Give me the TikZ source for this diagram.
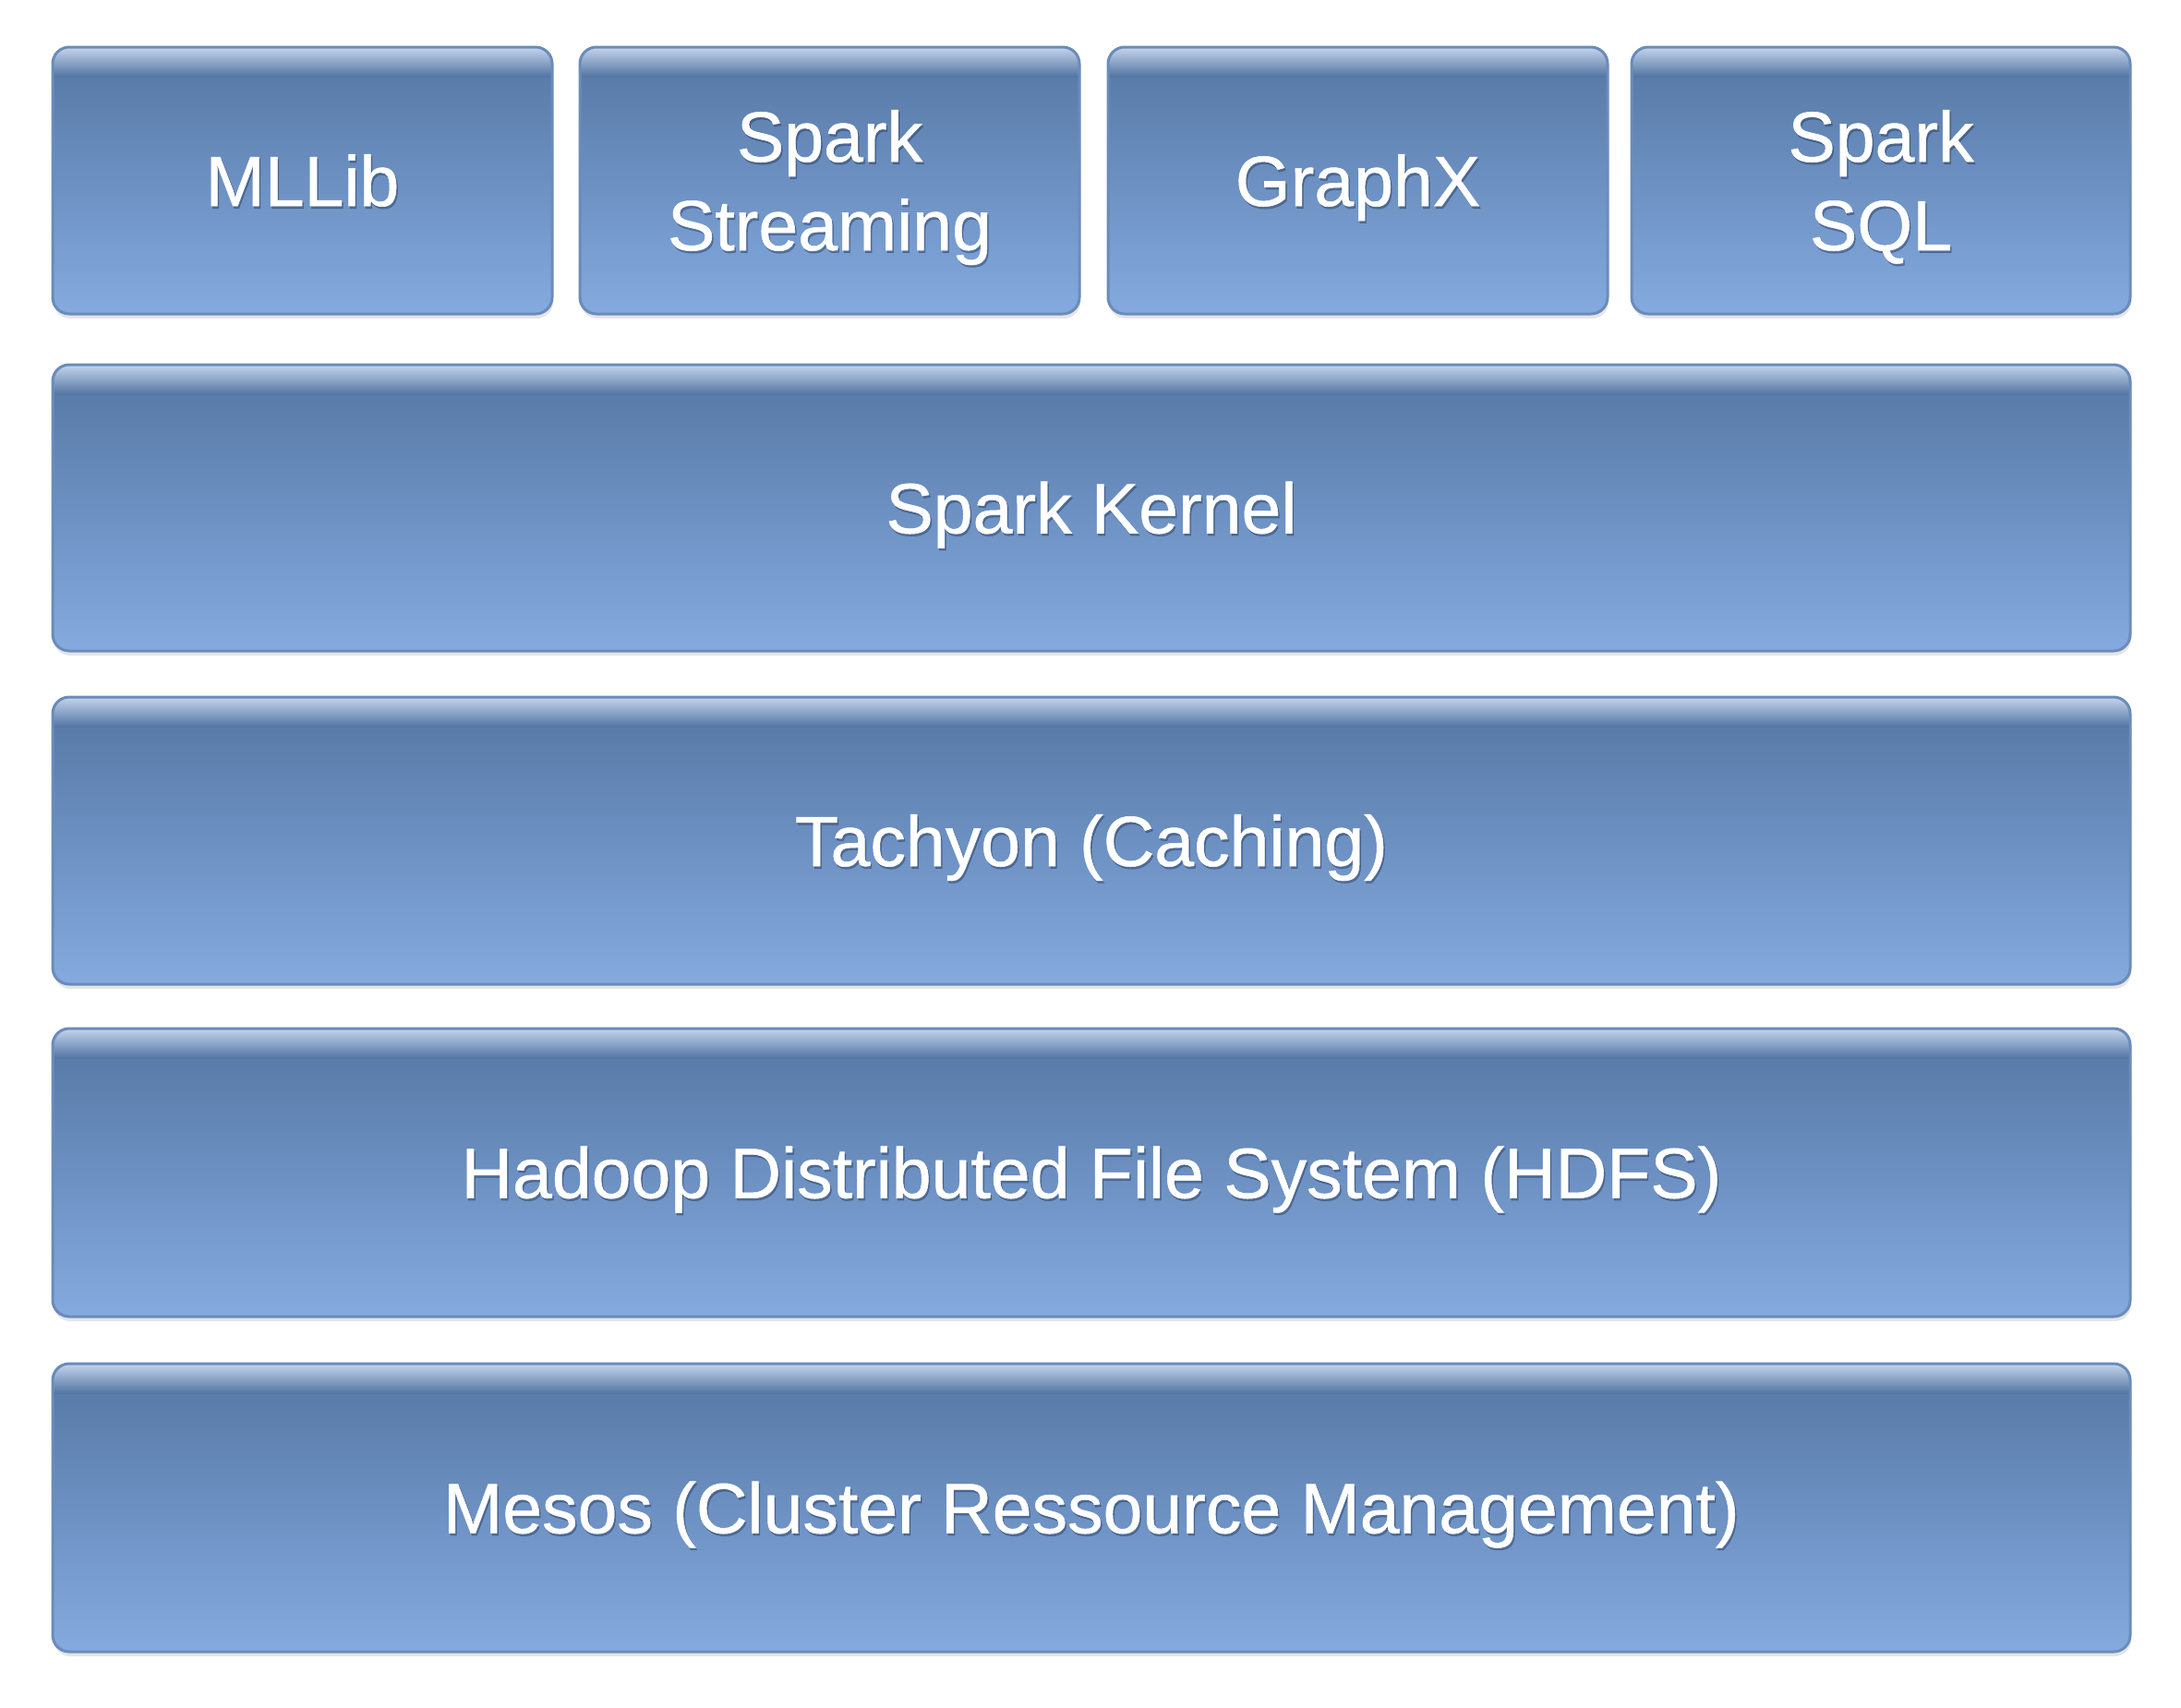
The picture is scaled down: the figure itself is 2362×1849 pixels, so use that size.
\documentclass[tikz,border=0pt]{standalone}
\usepackage{fontspec}
\setmainfont{Liberation Sans}
\newfontfamily\lblfont{Liberation Sans}[FakeBold=0.7]
\definecolor{bxtop}{RGB}{84,118,163}
\definecolor{bxbot}{RGB}{132,170,223}
\definecolor{bxgloss}{RGB}{196,213,236}
\definecolor{bxborder}{RGB}{106,140,186}
\definecolor{txshadow}{RGB}{40,62,100}
\tikzset{
  x=0.5pt, y=-0.5pt,
  lbl/.style={text=white, align=center, anchor=base, inner sep=0pt,
    font=\lblfont\fontsize{38.5}{48}\selectfont},
  lblshadow/.style={lbl, text=txshadow, opacity=0.45},
}
% #1 name, #2 x1, #3 y1, #4 x2, #5 y2
\newcommand\glossbox[5]{%
  \fill[black, opacity=0.10, rounded corners=9pt] (#2+1,#3+5) rectangle (#4+1,#5+5);
  \shade[rounded corners=9pt, top color=bxtop, bottom color=bxbot] (#2,#3) rectangle (#4,#5);
  \begin{scope}
    \clip[rounded corners=9pt] (#2,#3) rectangle (#4,#5);
    \shade[top color=bxgloss, bottom color=bxtop] (#2,#3) rectangle (#4,#3+32);
  \end{scope}
  \draw[bxborder, line width=1.5pt, rounded corners=9pt] (#2,#3) rectangle (#4,#5);
  \coordinate (#1) at ({(#2+#4)/2},{(#3+#5)/2});
}
% #1 name, #2 dy of last baseline from centre, #3 text
\newcommand\boxlabel[3]{%
  \node[lblshadow] at ([shift={(1.5,2.5)}]#1) [yshift=-#2*0.5pt] {#3};
  \node[lbl] (#1-t) at (#1) [yshift=-#2*0.5pt] {#3};
}
\begin{document}
\begin{tikzpicture}
\useasboundingbox (0,0) rectangle (2362,1849);
\glossbox{mllib}{57}{51}{598}{340}
\glossbox{stream}{628}{51}{1169}{340}
\glossbox{graphx}{1200}{51}{1741}{340}
\glossbox{sql}{1767}{51}{2307}{340}
\glossbox{kernel}{57}{395}{2307}{705}
\glossbox{tachyon}{57}{755}{2307}{1066}
\glossbox{hdfs}{57}{1114}{2307}{1426}
\glossbox{mesos}{57}{1477}{2307}{1789}
\boxlabel{mllib}{27.5}{MLLib}
\boxlabel{stream}{75.5}{Spark\\Streaming}
\boxlabel{graphx}{27.5}{GraphX}
\boxlabel{sql}{75.5}{Spark\\SQL}
\boxlabel{kernel}{27.5}{Spark Kernel}
\boxlabel{tachyon}{27.5}{Tachyon (Caching)}
\boxlabel{hdfs}{27.5}{Hadoop Distributed File System (HDFS)}
\boxlabel{mesos}{27.5}{Mesos (Cluster Ressource Management)}
\end{tikzpicture}
\end{document}
